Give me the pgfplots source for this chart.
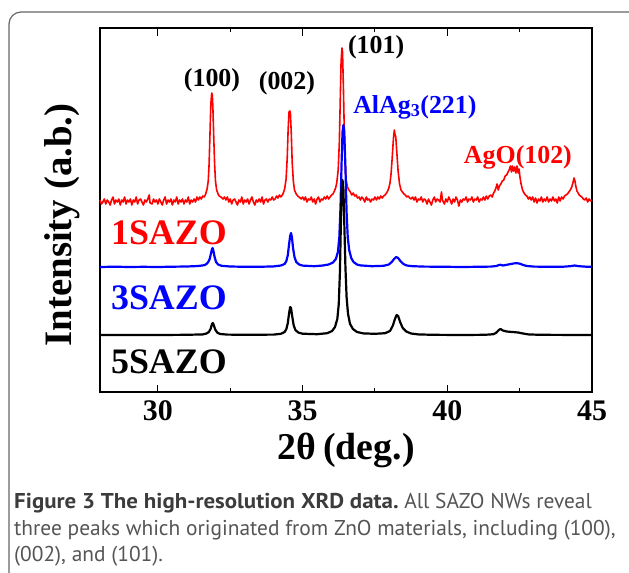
\documentclass[border=0pt]{standalone}
\usepackage{fontspec}
\setmainfont{Liberation Serif}
\newfontfamily\capfont{PT Sans}
\usepackage{graphicx}
\usepackage{pgfplots}
\pgfplotsset{compat=1.18}
\definecolor{capgray}{RGB}{85,85,85}
\definecolor{capdark}{RGB}{60,60,60}
\begin{document}
\begin{tikzpicture}
\useasboundingbox (0bp,0bp) rectangle (629bp,-573bp);
\clip (0bp,0bp) rectangle (629bp,-573bp);
\draw[black!60, line width=1.2bp, rounded corners=12bp] (9bp,-12bp) rectangle (680bp,-620bp);
\begin{axis}[
  at={(100bp,-392bp)}, anchor=south west,
  width=492bp, height=364bp, scale only axis,
  xmin=28, xmax=45, ymin=0, ymax=364,
  xtick={30,35,40,45}, minor xtick={32.5,37.5,42.5},
  ytick=\empty, minor ytick={0,9.1,...,364},
  tick align=inside,
  major tick length=7.5bp, minor tick length=4.5bp,
  tick style={black, line width=1.1bp},
  axis line style={line width=1.5bp},
  /pgf/number format/assume math mode=true,
  xticklabel style={font=\bfseries\fontsize{30}{30}\selectfont, yshift=-5bp},
  clip=false,
]
\addplot[red, line width=1.6bp, line join=round] coordinates {
(28.00,192) (28.05,188) (28.10,190) (28.15,193) (28.20,188) (28.25,192) (28.30,190) (28.35,187) (28.40,192) (28.45,195)
(28.50,188) (28.55,192) (28.60,190) (28.65,193) (28.70,187) (28.75,192) (28.80,190) (28.85,195) (28.90,188) (28.95,192)
(29.00,190) (29.05,193) (29.10,187) (29.15,192) (29.20,190) (29.25,195) (29.30,188) (29.35,192) (29.40,193) (29.45,190)
(29.50,187) (29.55,192) (29.60,190) (29.65,193) (29.70,197) (29.73,189) (29.80,188) (29.85,193) (29.90,190) (29.95,192)
(30.00,188) (30.05,193) (30.10,190) (30.15,187) (30.20,192) (30.25,195) (30.30,188) (30.35,192) (30.40,190) (30.45,193)
(30.50,187) (30.55,192) (30.60,190) (30.65,195) (30.70,188) (30.75,192) (30.80,190) (30.85,193) (30.90,188) (30.95,192)
(31.00,190) (31.05,195) (31.10,188) (31.15,192) (31.20,190) (31.25,193) (31.30,190) (31.35,195) (31.40,192) (31.45,195)
(31.50,193) (31.55,196) (31.60,195) (31.65,198) (31.70,203) (31.74,211) (31.77,228) (31.80,258) (31.83,288) (31.86,299)
(31.88,297) (31.90,285) (31.93,255) (31.96,228) (31.99,211) (32.03,202) (32.08,198) (32.12,196) (32.18,195) (32.25,193)
(32.30,195) (32.35,192) (32.40,195) (32.45,190) (32.50,193) (32.55,188) (32.60,192) (32.65,193) (32.70,190) (32.75,187)
(32.80,192) (32.85,190) (32.90,195) (32.95,188) (33.00,192) (33.05,190) (33.10,193) (33.15,188) (33.20,192) (33.25,195)
(33.30,190) (33.35,187) (33.40,192) (33.45,190) (33.50,193) (33.55,190) (33.60,195) (33.65,188) (33.70,192) (33.75,193)
(33.80,190) (33.85,193) (33.90,192) (33.95,195) (34.00,192) (34.05,193) (34.10,196) (34.15,194) (34.20,197) (34.25,195)
(34.32,198) (34.38,203) (34.43,213) (34.47,235) (34.50,262) (34.53,280) (34.56,281) (34.58,278) (34.61,258) (34.64,230)
(34.68,211) (34.72,202) (34.78,198) (34.83,196) (34.88,195) (34.95,193) (35.00,195) (35.05,192) (35.10,195) (35.15,190)
(35.20,193) (35.25,192) (35.30,195) (35.35,190) (35.40,193) (35.45,188) (35.50,193) (35.55,195) (35.60,190) (35.65,193)
(35.70,192) (35.75,195) (35.80,193) (35.85,196) (35.90,193) (35.95,195) (36.00,197) (36.05,198) (36.10,201) (36.14,204)
(36.18,209) (36.23,222) (36.27,250) (36.30,290) (36.33,330) (36.36,344) (36.38,340) (36.41,305) (36.44,262) (36.47,228)
(36.50,213) (36.55,205) (36.60,202) (36.65,200) (36.70,197) (36.75,199) (36.80,196) (36.85,197) (36.90,194) (36.95,195)
(37.00,192) (37.05,195) (37.10,193) (37.15,190) (37.20,195) (37.25,192) (37.30,193) (37.35,190) (37.40,193) (37.45,192)
(37.50,195) (37.55,192) (37.60,195) (37.65,193) (37.70,196) (37.75,194) (37.80,196) (37.85,197) (37.90,199) (37.94,201)
(37.98,204) (38.02,209) (38.06,219) (38.10,236) (38.14,254) (38.17,262) (38.19,258) (38.22,255) (38.26,238) (38.30,221)
(38.35,208) (38.40,202) (38.45,200) (38.50,198) (38.55,197) (38.60,195) (38.65,196) (38.70,194) (38.75,193) (38.80,195)
(38.85,192) (38.90,195) (38.95,190) (39.00,193) (39.05,192) (39.10,195) (39.15,190) (39.20,193) (39.25,192) (39.30,188)
(39.35,193) (39.40,190) (39.45,187) (39.50,192) (39.55,195) (39.60,190) (39.65,193) (39.70,192) (39.75,190) (39.80,200)
(39.83,192) (39.90,188) (39.95,193) (40.00,190) (40.05,195) (40.10,192) (40.15,188) (40.20,193) (40.25,190) (40.30,195)
(40.35,192) (40.40,186) (40.45,192) (40.50,190) (40.55,193) (40.60,192) (40.65,195) (40.70,190) (40.75,193) (40.80,192)
(40.85,195) (40.90,190) (40.95,193) (41.00,192) (41.05,195) (41.10,190) (41.15,193) (41.20,192) (41.25,195) (41.30,192)
(41.35,196) (41.40,193) (41.45,196) (41.50,197) (41.55,195) (41.60,199) (41.64,201) (41.68,204) (41.72,208) (41.76,202)
(41.80,206) (41.85,208) (41.90,211) (41.95,212) (42.00,216) (42.05,217) (42.10,220) (42.15,223) (42.18,226) (42.22,220)
(42.25,226) (42.29,221) (42.33,225) (42.37,219) (42.41,226) (42.45,219) (42.48,223) (42.51,215) (42.55,208) (42.60,202)
(42.65,199) (42.70,197) (42.75,196) (42.80,193) (42.85,195) (42.90,192) (42.95,195) (43.00,190) (43.05,194) (43.10,189)
(43.15,193) (43.20,191) (43.25,195) (43.30,190) (43.35,193) (43.40,191) (43.45,195) (43.50,190) (43.55,193) (43.60,191)
(43.65,195) (43.70,191) (43.75,193) (43.80,189) (43.85,195) (43.90,191) (43.95,195) (44.00,193) (44.05,196) (44.10,197)
(44.15,198) (44.20,200) (44.25,202) (44.30,205) (44.34,209) (44.38,214) (44.41,211) (44.44,206) (44.48,201) (44.52,199)
(44.56,197) (44.60,196) (44.65,195) (44.70,193) (44.75,192) (44.80,194) (44.85,190) (44.90,193) (44.95,191) (45.00,192)
};
\addplot[blue, line width=2.2bp, line join=round] coordinates {
(28.0,125) (28.5,125.3) (29.0,125) (29.5,125.2) (30.0,125) (30.5,125.3) (31.0,125.5) (31.4,126) (31.6,126.8) (31.68,128)
(31.74,130) (31.79,133) (31.83,138) (31.87,143) (31.89,144) (31.92,141) (31.96,135) (32.01,130) (32.08,127.5) (32.2,126.2)
(32.5,125.5) (33.0,125.2) (33.5,125.2) (34.0,125.6) (34.25,126.5) (34.38,128) (34.44,131) (34.49,137) (34.53,147) (34.57,156)
(34.60,159) (34.63,155) (34.67,144) (34.72,135) (34.78,130) (34.88,127.5) (35.0,126.4) (35.4,125.8) (35.7,126.5) (35.9,127.5)
(36.05,129.5) (36.15,133) (36.22,140) (36.27,155) (36.31,185) (36.35,232) (36.38,260) (36.41,267) (36.44,260) (36.48,225)
(36.52,180) (36.56,155) (36.61,142) (36.68,134) (36.76,130) (36.88,127.5) (37.0,126.6) (37.4,125.8) (37.8,126.2) (37.98,127.5)
(38.08,130) (38.16,133) (38.23,135) (38.30,134) (38.38,131) (38.48,128) (38.6,126.5) (38.8,125.8) (39.2,125.4) (40.0,125.2)
(40.5,125) (41.0,125.2) (41.5,125.4) (41.7,126) (41.78,127) (41.84,127.2) (41.92,126.5) (42.05,127.2) (42.2,128) (42.3,128.6)
(42.42,128.8) (42.52,128.2) (42.62,127) (42.75,126) (43.0,125.4) (43.5,125.2) (44.0,125.3) (44.25,125.8) (44.4,126.5) (44.55,125.8)
(44.8,125.3) (45.0,125.2)
};
\addplot[black, line width=2.2bp, line join=round] coordinates {
(28.0,57) (29.0,57) (30.0,57) (31.0,57.2) (31.55,57.6) (31.68,58.5) (31.76,60) (31.82,63) (31.87,68) (31.90,69)
(31.93,67) (31.98,62.5) (32.05,59.5) (32.15,58) (32.4,57.4) (33.0,57.2) (34.0,57.4) (34.25,58.2) (34.38,60) (34.44,63)
(34.49,69) (34.53,78) (34.57,85) (34.60,84) (34.64,76) (34.69,67) (34.75,62) (34.85,59.5) (35.0,58.3) (35.5,57.8)
(35.85,58.8) (36.02,61) (36.12,65) (36.2,73) (36.25,88) (36.29,120) (36.32,165) (36.35,203) (36.38,212) (36.41,203)
(36.44,170) (36.48,125) (36.52,95) (36.57,78) (36.64,68) (36.74,63) (36.88,60) (37.1,58.6) (37.5,58.2) (37.85,58.8)
(38.02,61) (38.12,66.5) (38.19,73) (38.25,77) (38.30,76) (38.37,70) (38.46,64) (38.58,60.5) (38.75,58.5) (39.0,57.6)
(39.5,57.2) (40.5,57) (41.3,57.2) (41.6,57.8) (41.7,59.5) (41.78,62) (41.84,63) (41.92,61.5) (42.05,60.5) (42.25,60)
(42.45,59.5) (42.6,58.6) (42.8,57.6) (43.2,57.2) (44.0,57.1) (45.0,57)
};
\node[font=\bfseries\fontsize{26}{26}\selectfont] at (axis cs:31.87,312) {(100)};
\node[font=\bfseries\fontsize{26}{26}\selectfont] at (axis cs:34.46,309) {(002)};
\node[font=\bfseries\fontsize{26}{26}\selectfont] at (axis cs:37.54,345) {(101)};
\node[blue, font=\bfseries\fontsize{26}{26}\selectfont] at (axis cs:38.88,285) {AlAg\textsubscript{3}(221)};
\node[red, font=\bfseries\fontsize{26}{26}\selectfont] at (axis cs:42.44,235) {AgO(102)};
\node[red, font=\bfseries\fontsize{36}{36}\selectfont] at (axis cs:30.38,159) {1SAZO};
\node[blue, font=\bfseries\fontsize{36}{36}\selectfont] at (axis cs:30.38,94) {3SAZO};
\node[black, font=\bfseries\fontsize{36}{36}\selectfont] at (axis cs:30.38,30) {5SAZO};
\end{axis}
\node[font=\bfseries\fontsize{38}{38}\selectfont] at (346bp,-450bp) {2θ\hspace{-2bp} (deg.)};
\node[rotate=90, font=\bfseries\fontsize{39}{39}\selectfont] at (62bp,-225bp) {Intensity (a.b.)};
\node[anchor=base west, inner sep=0pt, font=\capfont\fontsize{21.5}{21.5}\selectfont, text=capgray] at (14bp,-508bp) {\textcolor{capdark}{\scalebox{1.07}[1]{\bfseries Figure 3 The high-resolution XRD data.}} All SAZO NWs reveal};
\node[anchor=base west, inner sep=0pt, font=\capfont\fontsize{21.5}{21.5}\selectfont, text=capgray] at (14bp,-535bp) {three peaks which originated from ZnO materials, including (100),};
\node[anchor=base west, inner sep=0pt, font=\capfont\fontsize{21.5}{21.5}\selectfont, text=capgray] at (14bp,-561bp) {(002), and (101).};
\end{tikzpicture}
\end{document}
